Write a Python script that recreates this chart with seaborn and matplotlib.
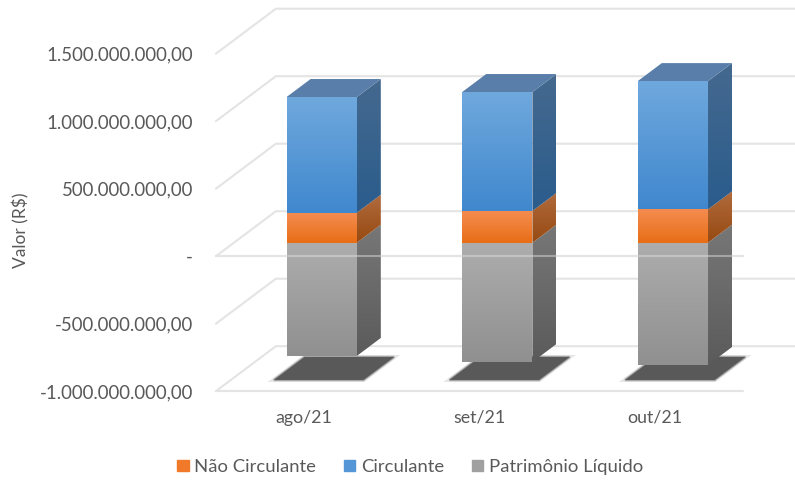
import matplotlib

matplotlib.use("Agg")
import matplotlib.pyplot as plt
import numpy as np
import seaborn as sns
from matplotlib.colors import LinearSegmentedColormap
from matplotlib.patches import Patch, Polygon

MONTHS = ["ago/21", "set/21", "out/21"]
NAO_CIRCULANTE = [222e6, 235e6, 247e6]
CIRCULANTE = [857e6, 881e6, 950e6]
PATRIMONIO = [-839e6, -884e6, -906e6]
TICK_VALUES = [-1000e6, -500e6, 0, 500e6, 1000e6, 1500e6]
TICK_LABELS = [
    "-1.000.000.000,00",
    "-500.000.000,00",
    "-",
    "500.000.000,00",
    "1.000.000.000,00",
    "1.500.000.000,00",
]

# depth of the fake 3d box, counted from the front face of the bars
WALL_DX = 60 / 175.6
WALL_DY = 45 / 135 * 1e9
FRONT_DEPTH = -0.3
BAR_DEPTH = 0.4
BACK_DEPTH = 0.7
BAR_WIDTH = 0.4
CHART_LEFT = -0.5
CHART_RIGHT = 2.5

GRID_COLOR = "#E4E4E4"
TEXT_COLOR = "#595959"

FRONT_COLORS = {
    "orange": ("#F48C50", "#E86E16"),
    "blue": ("#6FA8DD", "#4088CE"),
    "gray": ("#ADADAD", "#909090"),
}
SIDE_COLORS = {
    "orange": ("#B06A3C", "#974A12"),
    "blue": ("#45698F", "#2A5C8C"),
    "gray": ("#777777", "#5B5B5B"),
}
TOP_COLOR = "#587EA9"
SHADOW_COLOR = "#595959"


def project(x, value, depth):
    return x + depth * WALL_DX, value + depth * WALL_DY


def paint_gradient(ax, patch, colors, zorder):
    xy = patch.get_xy()
    cmap = LinearSegmentedColormap.from_list("face", colors)
    image = ax.imshow(
        np.linspace(0, 1, 64)[:, None],
        extent=(xy[:, 0].min(), xy[:, 0].max(), xy[:, 1].min(), xy[:, 1].max()),
        cmap=cmap,
        aspect="auto",
        interpolation="bilinear",
        zorder=zorder,
    )
    image.set_clip_path(patch)


def draw_walls(ax):
    for value in TICK_VALUES:
        x0, y0 = project(CHART_LEFT, value, FRONT_DEPTH)
        x1, y1 = project(CHART_LEFT, value, BACK_DEPTH)
        x2, y2 = project(CHART_RIGHT, value, BACK_DEPTH)
        ax.plot([x0, x1, x2], [y0, y1, y2], color=GRID_COLOR, lw=1.5, zorder=1, solid_joinstyle="miter")

    x0, y0 = project(CHART_LEFT, -1000e6, FRONT_DEPTH)
    x1, _ = project(CHART_RIGHT, -1000e6, FRONT_DEPTH)
    ax.plot([x0, x1], [y0, y0], color=GRID_COLOR, lw=1.5, zorder=1)


def draw_shadow(ax, i):
    corners = [
        project(i - 0.255, -1000e6, -0.05),
        project(i + 0.255, -1000e6, -0.05),
        project(i + 0.255, -1000e6, 0.46),
        project(i - 0.255, -1000e6, 0.46),
    ]
    for lw, alpha in [(3, 0.15), (2, 0.25), (1, 0.4)]:
        ax.add_patch(
            Polygon(corners, closed=True, facecolor="none", edgecolor=SHADOW_COLOR, lw=lw, alpha=alpha, zorder=1.5)
        )
    ax.add_patch(Polygon(corners, closed=True, facecolor=SHADOW_COLOR, edgecolor="none", zorder=1.6))


def draw_side(ax, i, low, high, key):
    right = i + BAR_WIDTH / 2
    back_low = project(right, low, BAR_DEPTH)
    back_high = project(right, high, BAR_DEPTH)
    side = Polygon([(right, low), back_low, back_high, (right, high)], closed=True, facecolor="none", edgecolor="none")
    ax.add_patch(side)
    paint_gradient(ax, side, SIDE_COLORS[key], 2)


def draw_top(ax, i, value):
    left, right = i - BAR_WIDTH / 2, i + BAR_WIDTH / 2
    corners = [(left, value), (right, value), project(right, value, BAR_DEPTH), project(left, value, BAR_DEPTH)]
    ax.add_patch(Polygon(corners, closed=True, facecolor=TOP_COLOR, edgecolor="none", zorder=2))


def draw_fronts(ax):
    orange = np.array(NAO_CIRCULANTE)
    blue = np.array(CIRCULANTE)
    gray = np.array(PATRIMONIO)
    bar_style = dict(width=BAR_WIDTH, saturation=1, linewidth=0, edgecolor="none", ax=ax, zorder=3)
    sns.barplot(x=MONTHS, y=gray, color="#A0A0A0", **bar_style)
    sns.barplot(x=MONTHS, y=orange, color="#F07A2A", **bar_style)
    sns.barplot(x=MONTHS, y=blue, bottom=orange, color="#5597D6", **bar_style)

    for container, key in zip(ax.containers, ["gray", "orange", "blue"]):
        for bar in container:
            xy = bar.get_corners()
            face = Polygon(xy, closed=True, facecolor="none", edgecolor="none")
            ax.add_patch(face)
            paint_gradient(ax, face, FRONT_COLORS[key], 3.5)


def main():
    sns.set_theme(style="white")
    plt.rcParams["font.family"] = ["Lato", "DejaVu Sans"]

    fig = plt.figure(figsize=(7.95, 4.83), dpi=100)
    ax = fig.add_axes([200 / 795, 1 - 400 / 483, 595 / 795, 400 / 483])

    draw_walls(ax)
    for i in range(len(MONTHS)):
        orange_top = NAO_CIRCULANTE[i]
        blue_top = orange_top + CIRCULANTE[i]
        draw_shadow(ax, i)
        draw_side(ax, i, PATRIMONIO[i], 0, "gray")
        draw_side(ax, i, 0, orange_top, "orange")
        draw_side(ax, i, orange_top, blue_top, "blue")
        draw_top(ax, i, blue_top)
    draw_fronts(ax)

    # zero line of the front plane shows faintly across the bars
    x0, y0 = project(CHART_LEFT, 0, FRONT_DEPTH)
    x1, _ = project(CHART_RIGHT, 0, FRONT_DEPTH)
    ax.plot([x0, x1], [y0, y0], color=GRID_COLOR, lw=1.5, alpha=0.45, zorder=4)
    ax.plot([x0, x1], [y0, y0], color=GRID_COLOR, lw=1.5, zorder=1)

    ax.set_xlim((200 - 321.7) / 175.6, (795 - 321.7) / 175.6)
    ax.set_ylim((242.7 - 400) / 135 * 1e9, 242.7 / 135 * 1e9)

    ax.set_xticks([project(i, 0, FRONT_DEPTH)[0] for i in range(len(MONTHS))])
    ax.set_xticklabels(MONTHS)
    ax.set_yticks([project(0, value, FRONT_DEPTH)[1] for value in TICK_VALUES])
    ax.set_yticklabels(TICK_LABELS)
    ax.tick_params(axis="x", length=0, pad=7, labelsize=12.8, labelcolor=TEXT_COLOR)
    ax.tick_params(axis="y", length=0, pad=5, labelsize=13.4, labelcolor=TEXT_COLOR)
    ax.set_ylabel("Valor (R$)", fontsize=12.5, color=TEXT_COLOR)
    ax.yaxis.set_label_coords((29 - 200) / 595, 1 - 230 / 400)
    ax.grid(False)
    sns.despine(ax=ax, left=True, bottom=True)

    handles = [
        Patch(color="#F07A2A", label="Não Circulante"),
        Patch(color="#5597D6", label="Circulante"),
        Patch(color="#A0A0A0", label="Patrimônio Líquido"),
    ]
    fig.legend(
        handles=handles,
        loc="center",
        bbox_to_anchor=(410 / 795, 1 - 467 / 483),
        ncol=3,
        frameon=False,
        fontsize=13.3,
        labelcolor=TEXT_COLOR,
        handlelength=0.62,
        handleheight=0.62,
        handletextpad=0.3,
        columnspacing=1.5,
    )

    fig.savefig("out.png", dpi=100)
    plt.close(fig)


if __name__ == "__main__":
    main()
